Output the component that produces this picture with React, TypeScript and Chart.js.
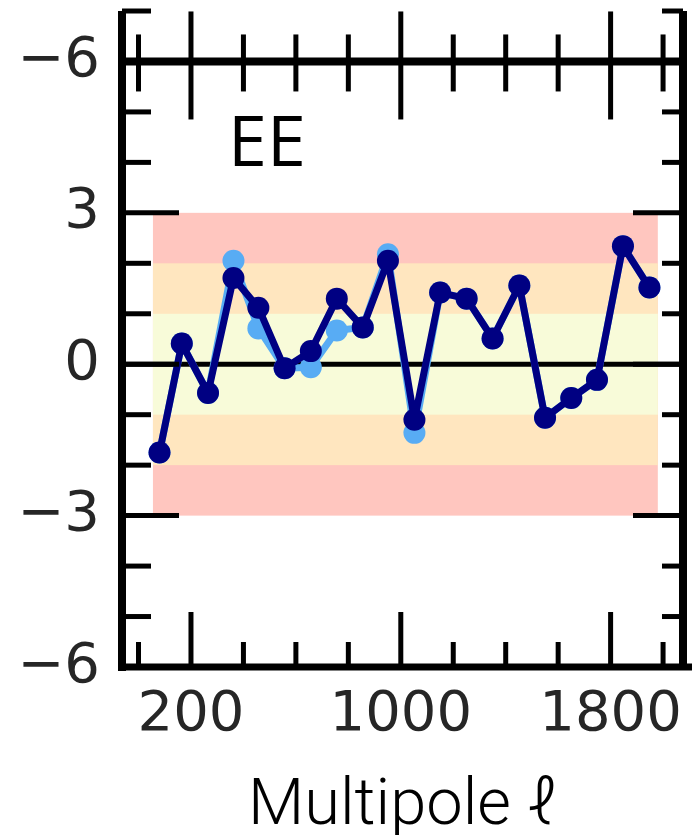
import React, { useEffect, useRef } from "react";
import { Chart, registerables } from "chart.js";

Chart.register(...registerables);

// Binned multipole centres and the normalised EE residuals (in sigma)
const multipoles = [80, 165, 265, 362, 457, 557, 657, 756, 855, 951, 1052, 1150, 1251, 1350, 1452, 1550, 1650, 1748, 1847, 1948];
const eeResidual = [-1.75, 0.41, -0.57, 1.71, 1.12, -0.08, 0.26, 1.3, 0.73, 2.05, -1.1, 1.42, 1.3, 0.51, 1.56, -1.06, -0.67, -0.31, 2.34, 1.52];
const eeResidualAlt = [-1.75, 0.41, -0.57, 2.05, 0.71, -0.08, -0.06, 0.67, 0.73, 2.18, -1.36, 1.42, 1.3, 0.51, 1.56, -1.06, -0.67, -0.31, 2.34, 1.52];

// Sigma bands, drawn outermost first
const sigmaLevels = [3, 2, 1];
const sigmaColors = ["#ffc6bf", "#ffe6bf", "#f8fbd9"];
const bandSpan = [55, 1980];

// Axis ticks
const xTickValues = [0, 200, 400, 600, 800, 1000, 1200, 1400, 1600, 1800, 2000];
const xMajorTicks = [200, 1000, 1800];
const yTickValues = [-6, -5, -4, -3, -2, -1, 0, 1, 2, 3, 4, 5, 6, 7];
const yTickLabels: Record<string, string> = { "6": "−6", "3": "3", "0": "0", "-3": "−3", "-6": "−6" };

const panelLabel = "EE";
const xTitle = "Multipole ℓ";

const line = (ctx: CanvasRenderingContext2D, x1: number, y1: number, x2: number, y2: number) => {
  ctx.beginPath();
  ctx.moveTo(x1, y1);
  ctx.lineTo(x2, y2);
  ctx.stroke();
};

const panelPlugin = {
  id: "panelFrame",
  beforeDatasetsDraw(chart: any) {
    const { ctx, chartArea: a, scales } = chart;
    const x = scales.x;
    const y = scales.y;
    ctx.save();
    const bx0 = x.getPixelForValue(bandSpan[0]);
    const bx1 = x.getPixelForValue(bandSpan[1]);
    sigmaLevels.forEach((s, i) => {
      const top = y.getPixelForValue(s);
      const bottom = y.getPixelForValue(-s);
      ctx.fillStyle = sigmaColors[i];
      ctx.fillRect(bx0, top, bx1 - bx0, bottom - top);
    });
    ctx.strokeStyle = "#000";
    ctx.lineWidth = 5;
    const y0 = y.getPixelForValue(0);
    line(ctx, a.left, y0, a.right, y0);
    ctx.restore();
  },
  afterDatasetsDraw(chart: any) {
    const { ctx, chartArea: a, scales } = chart;
    const x = scales.x;
    const y = scales.y;
    ctx.save();
    ctx.strokeStyle = "#000";
    ctx.lineCap = "butt";

    // inward y ticks on both sides
    ctx.lineWidth = 5;
    y.ticks.forEach((t: any) => {
      const py = y.getPixelForValue(t.value);
      const major = t.value % 3 === 0;
      line(ctx, a.left, py, a.left + (major ? 57 : 29), py);
      line(ctx, a.right, py, a.right - (major ? 50 : 21), py);
    });

    // x ticks along the bottom and across the upper rule
    const yTop = y.getPixelForValue(6);
    x.ticks.forEach((t: any) => {
      const px = x.getPixelForValue(t.value);
      const major = xMajorTicks.includes(t.value);
      line(ctx, px, a.bottom, px, a.bottom - (major ? 55 : 25));
      line(ctx, px, yTop - (major ? 50 : 27), px, yTop + (major ? 58 : 30));
    });

    // frame
    ctx.lineWidth = 8;
    line(ctx, a.left, a.top, a.left, a.bottom + 4);
    line(ctx, a.right, a.top, a.right, a.bottom);
    line(ctx, a.left - 4, yTop, a.right, yTop);
    ctx.lineWidth = 7;
    line(ctx, a.left - 4, a.bottom, a.right + 9, a.bottom);

    // panel label
    ctx.fillStyle = "#000";
    ctx.font = "70px 'Open Sans'";
    ctx.textBaseline = "alphabetic";
    ctx.textAlign = "left";
    ctx.fillText(panelLabel, 228, 166);
    ctx.restore();
  },
};

export default function App() {
  const canvasRef = useRef<HTMLCanvasElement | null>(null);

  useEffect(() => {
    const canvas = canvasRef.current;
    if (!canvas) return;
    const chart = new Chart(canvas, {
      type: "line",
      data: {
        datasets: [
          {
            label: "EE",
            data: multipoles.map((m, i) => ({ x: m, y: eeResidual[i] })),
            borderColor: "#000082",
            backgroundColor: "#000082",
            borderWidth: 7,
            borderJoinStyle: "round",
            pointRadius: 11,
            pointBorderWidth: 0,
            pointBackgroundColor: "#000082",
            tension: 0,
          },
          {
            label: "EE alt",
            data: multipoles.map((m, i) => ({ x: m, y: eeResidualAlt[i] })),
            borderColor: "#58acf4",
            backgroundColor: "#58acf4",
            borderWidth: 7,
            borderJoinStyle: "round",
            pointRadius: 11,
            pointBorderWidth: 0,
            pointBackgroundColor: "#58acf4",
            tension: 0,
          },
        ],
      },
      options: {
        animation: false,
        responsive: false,
        devicePixelRatio: 1,
        layout: { padding: { left: 0, top: 9, right: 16, bottom: 0 } },
        plugins: { legend: { display: false }, tooltip: { enabled: false }, title: { display: false } },
        scales: {
          x: {
            type: "linear",
            min: -63,
            max: 2076,
            grid: { display: false, drawTicks: false },
            border: { display: false },
            afterBuildTicks: (s: any) => {
              s.ticks = xTickValues.map((v) => ({ value: v }));
            },
            afterFit: (s: any) => {
              s.height = 835 - 667;
              s.paddingLeft = 0;
              s.paddingRight = 0;
            },
            ticks: {
              autoSkip: false,
              maxRotation: 0,
              padding: 15,
              color: "#262626",
              font: { family: "'DejaVu Sans'", size: 56 },
              callback: (v: any) => (xMajorTicks.includes(Number(v)) ? String(v) : ""),
            },
            title: {
              display: true,
              text: xTitle,
              color: "#000",
              font: { family: "Roboto", size: 65, weight: "300" },
              padding: { top: 0, bottom: -12 },
            },
          },
          y: {
            type: "linear",
            min: -6,
            max: 7,
            grid: { display: false, drawTicks: false },
            border: { display: false },
            afterBuildTicks: (s: any) => {
              s.ticks = yTickValues.map((v) => ({ value: v }));
            },
            afterFit: (s: any) => {
              s.width = 122;
              s.paddingTop = 0;
              s.paddingBottom = 0;
            },
            ticks: {
              autoSkip: false,
              padding: 22,
              color: "#262626",
              font: { family: "'DejaVu Sans'", size: 56 },
              callback: (v: any) => yTickLabels[String(v)] ?? "",
            },
          },
        },
      },
      plugins: [panelPlugin],
    });
    return () => chart.destroy();
  }, []);

  return (
    <div style={{ position: "fixed", left: 0, top: 0, width: 699, height: 835, background: "#fff" }}>
      <canvas ref={canvasRef} width={699} height={835} style={{ display: "block" }} />
    </div>
  );
}
